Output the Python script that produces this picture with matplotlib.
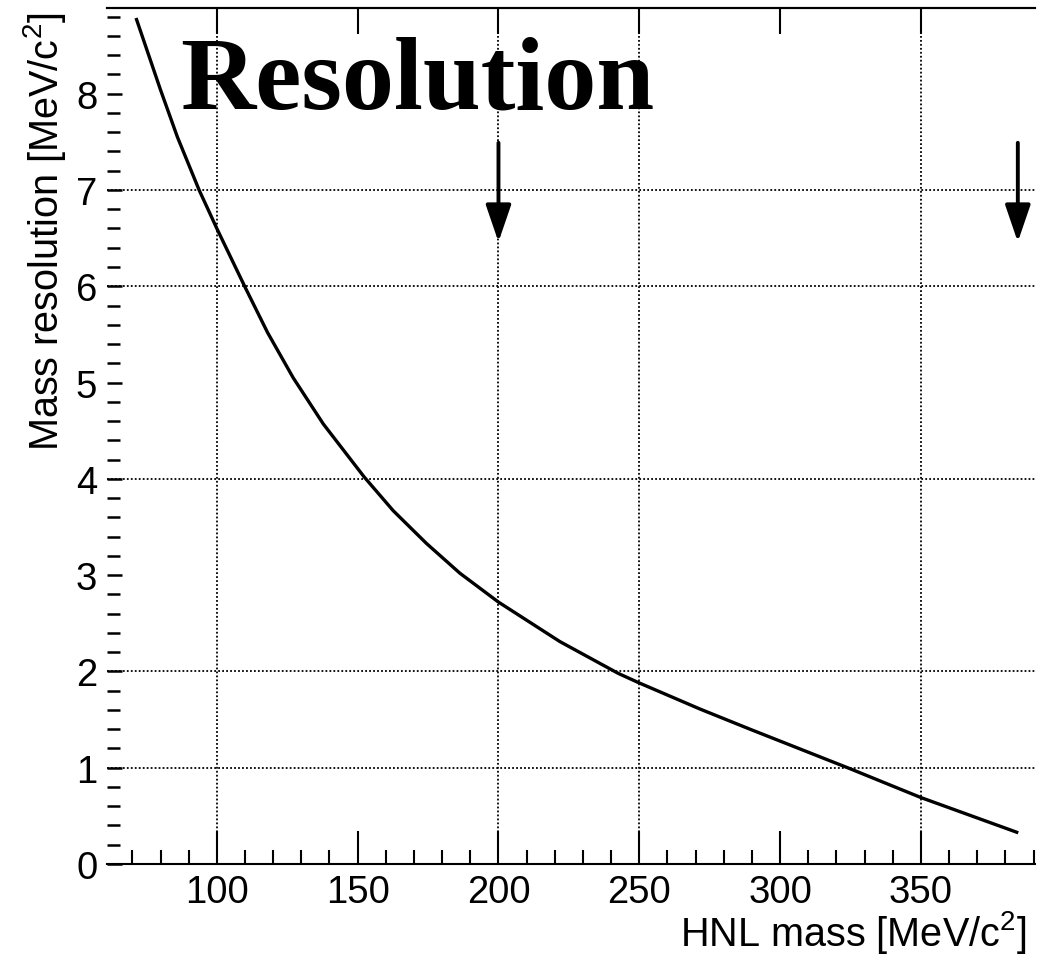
import matplotlib
matplotlib.use("Agg")
import matplotlib.pyplot as plt
from matplotlib.ticker import MultipleLocator

# ---- data ----
hnl_mass = [71.5, 80, 86, 93.7, 100, 110.2, 118, 127.1, 137.8, 152.3, 162.6,
            174.4, 186.3, 200, 221.8, 242.5, 250, 271.5, 289.3, 324.8, 350, 384]
mass_res = [8.77, 8.04, 7.55, 7.0, 6.60, 5.98, 5.52, 5.05, 4.57, 4.02, 3.67,
            3.33, 3.02, 2.72, 2.31, 1.98, 1.88, 1.61, 1.40, 0.99, 0.69, 0.33]
arrow_x = [200, 384.4]
arrow_top = 7.49
arrow_tip = 6.46
x_ticks = [100, 150, 200, 250, 300, 350]
y_ticks = [0, 1, 2, 3, 4, 5, 6, 7, 8]
grid_x = [100, 200, 250, 350]
grid_y = [1, 2, 4, 6, 7]

plt.rcParams['font.family'] = ['Liberation Sans', 'DejaVu Sans']
plt.rcParams['mathtext.fontset'] = 'custom'
plt.rcParams['mathtext.rm'] = 'Liberation Sans'
plt.rcParams['mathtext.it'] = 'Liberation Sans:italic'

fig = plt.figure(figsize=(10.41, 9.62), dpi=100)
ax = fig.add_axes([107/1041, 97/962, 928/1041, 856/962])

ax.set_xlim(61, 390.5)
ax.set_ylim(0, 8.89)

for gx in grid_x:
    ax.axvline(gx, color='black', lw=1.3, ls=(0, (1, 1.2)), zorder=1)
for gy in grid_y:
    ax.axhline(gy, color='black', lw=1.3, ls=(0, (1, 1.2)), zorder=1)

ax.plot(hnl_mass, mass_res, color='black', lw=2.4, zorder=3,
        solid_joinstyle='round')

for xa in arrow_x:
    ax.annotate('', xy=(xa, arrow_tip), xytext=(xa, arrow_top),
                arrowprops=dict(arrowstyle='-|>,head_length=0.38,head_width=0.13',
                                lw=2.8, color='black', shrinkA=0, shrinkB=0,
                                mutation_scale=60),
                zorder=4)

for side in ['left', 'right']:
    ax.spines[side].set_visible(False)
for side in ['top', 'bottom']:
    ax.spines[side].set_linewidth(1.5)

ax.set_xticks(x_ticks)
ax.set_xticklabels([str(v) for v in x_ticks])
ax.set_yticks(y_ticks)
ax.set_yticklabels([str(v) for v in y_ticks])
ax.xaxis.set_minor_locator(MultipleLocator(10))
ax.yaxis.set_minor_locator(MultipleLocator(0.2))

ax.tick_params(axis='x', which='major', direction='in', length=24, width=1.5,
               labelsize=27.5, pad=7, top=False, bottom=True)
ax.tick_params(axis='x', which='minor', direction='in', length=10, width=1.5,
               top=False, bottom=True)
ax.tick_params(axis='y', which='major', direction='in', length=11, width=1.8,
               labelsize=27.5, pad=7, left=True, right=False)
ax.tick_params(axis='y', which='minor', direction='in', length=9, width=1.8,
               left=True, right=False)

sec = ax.secondary_xaxis('top')
sec.set_xticks(x_ticks)
sec.set_xticklabels([])
sec.tick_params(axis='x', which='major', direction='in', length=19, width=1.5)
sec.spines['top'].set_linewidth(1.5)

ax.set_xlabel(r'HNL mass [MeV/c$^{2}$]', fontsize=28.5, ha='right', va='center')
ax.xaxis.set_label_coords(0.991, -0.079)
ax.set_ylabel(r'Mass resolution [MeV/c$^{2}$]', fontsize=28.5, ha='right', va='center')
ax.yaxis.set_label_coords(-0.067, 0.996)

fig.text(180/1041, (962-108)/962, 'Resolution', fontsize=75, fontweight='bold',
         family=['Liberation Serif', 'DejaVu Serif'], ha='left', va='baseline')

fig.savefig('out.png', dpi=100)
